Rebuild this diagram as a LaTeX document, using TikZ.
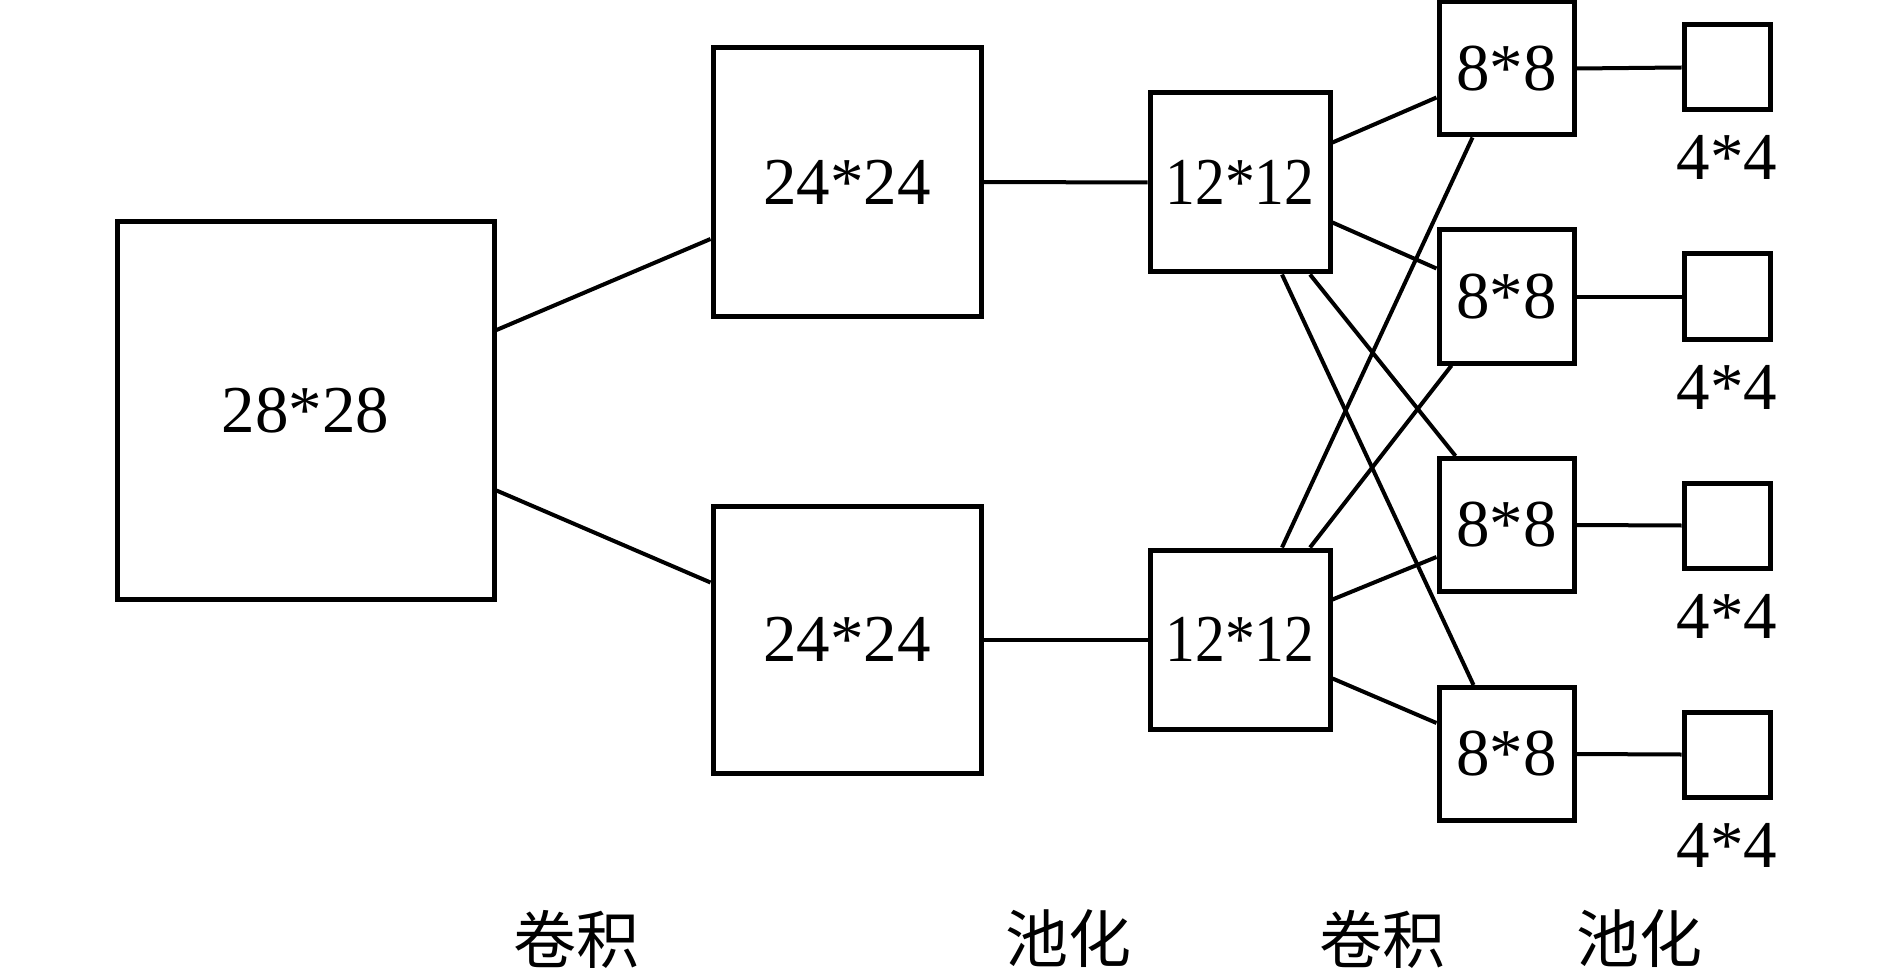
\documentclass[tikz,border=0pt]{standalone}
\usepackage{fontspec}
\setmainfont{Liberation Serif}
\newfontfamily\tnr{Liberation Serif}
\newfontfamily\tnrn[FakeStretch=0.89]{Liberation Serif}
\newfontfamily\cjk{Noto Sans CJK SC}
\usetikzlibrary{calc}
\begin{document}
\begin{tikzpicture}[x=1pt,y=-1pt,
  box/.style={draw, line width=5pt, inner sep=0pt, font=\tnr\fontsize{67}{70}\selectfont},
  narrow/.style={font=\tnrn\fontsize{67}{70}\selectfont},
  conn/.style={line width=4pt},
  lbl/.style={inner sep=0pt, anchor=base, font=\tnr\fontsize{67}{70}\selectfont},
  cn/.style={inner sep=0pt, font=\cjk\fontsize{63}{70}\selectfont}]
\useasboundingbox (0,0) rectangle (1889,968);
% boxes
\node[box, minimum width=377pt, minimum height=377pt] (n28) at (305.5,410.5) {28*28};
\node[box, minimum width=268pt, minimum height=268pt] (n24a) at (847,182) {24*24};
\node[box, minimum width=268pt, minimum height=267pt] (n24b) at (847,639.5) {24*24};
\node[box, narrow, minimum width=180pt, minimum height=179pt] (n12a) at (1240,182.5) {12*12};
\node[box, narrow, minimum width=180pt, minimum height=179pt] (n12b) at (1240,639.5) {12*12};
\node[box, minimum width=135pt, minimum height=133pt] (n8a) at (1506.5,68.5) {8*8};
\node[box, minimum width=135pt, minimum height=133pt] (n8b) at (1506.5,296.5) {8*8};
\node[box, minimum width=135pt, minimum height=133pt] (n8c) at (1506.5,525) {8*8};
\node[box, minimum width=135pt, minimum height=133pt] (n8d) at (1506.5,754) {8*8};
\node[box, minimum width=86pt, minimum height=85pt] (n4a) at (1727,67.5) {};
\node[box, minimum width=86pt, minimum height=85pt] (n4b) at (1727,296.5) {};
\node[box, minimum width=86pt, minimum height=85pt] (n4c) at (1727,525.5) {};
\node[box, minimum width=86pt, minimum height=85pt] (n4d) at (1727,754.5) {};
% 4*4 labels
\node[lbl] (l4a) at (1727,180) {4*4};
\node[lbl] (l4b) at (1727,409) {4*4};
\node[lbl] (l4c) at (1727,638) {4*4};
\node[lbl] (l4d) at (1727,867) {4*4};
% bottom labels
\node[cn] (c1) at (576,939) {卷积};
\node[cn] (c2) at (1068,939) {池化};
\node[cn] (c3) at (1382,939) {卷积};
\node[cn] (c4) at (1639,939) {池化};
% connectors
\draw[conn] ($(n28.east)+(0,-80.5)$) -- ($(n24a.west)+(0,57)$);
\draw[conn] ($(n28.east)+(0,80)$) -- ($(n24b.west)+(0,-57)$);
\draw[conn] (n24a.east) -- (n12a.west);
\draw[conn] (n24b.east) -- (n12b.west);
\draw[conn] ($(n12a.east)+(0,-40)$) -- ($(n8a.west)+(0,29)$);
\draw[conn] ($(n12a.east)+(0,40)$) -- ($(n8b.west)+(0,-28)$);
\draw[conn] ($(n12a.south)+(42,0)$) -- ($(n8d.north west)+(37,0)$);
\draw[conn] ($(n12a.south)+(70,0)$) -- ($(n8c.north west)+(19,0)$);
\draw[conn] ($(n12b.north)+(42,0)$) -- ($(n8a.south west)+(36,0)$);
\draw[conn] ($(n12b.north)+(70,0)$) -- ($(n8b.south west)+(15,0)$);
\draw[conn] ($(n12b.east)+(0,-40)$) -- ($(n8c.west)+(0,32)$);
\draw[conn] ($(n12b.east)+(0,39)$) -- ($(n8d.west)+(0,-31)$);
\draw[conn] (n8a.east) -- (n4a.west);
\draw[conn] (n8b.east) -- (n4b.west);
\draw[conn] (n8c.east) -- (n4c.west);
\draw[conn] (n8d.east) -- (n4d.west);
\end{tikzpicture}
\end{document}
